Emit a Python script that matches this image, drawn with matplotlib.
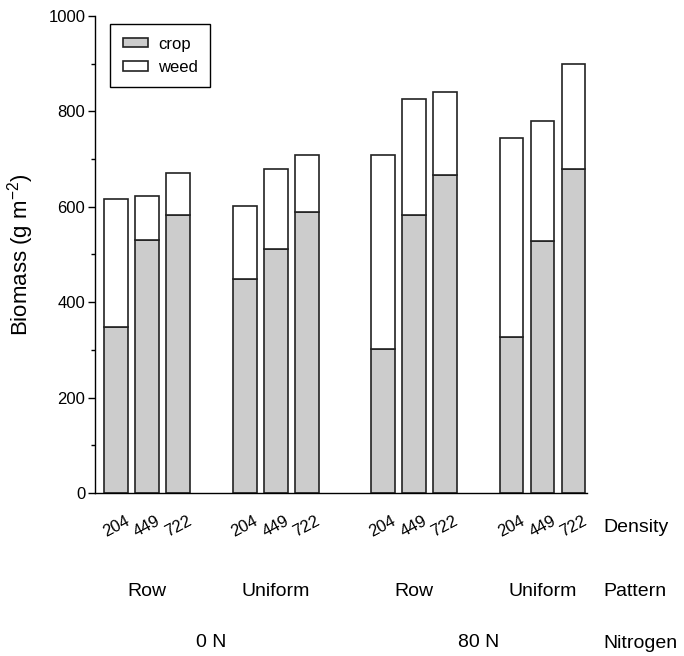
import matplotlib

matplotlib.use("Agg")
import matplotlib.pyplot as plt
import numpy as np
from matplotlib.patches import Patch

plt.rcParams["font.family"] = ["Liberation Sans", "DejaVu Sans"]
plt.rcParams["mathtext.fontset"] = "custom"
plt.rcParams["mathtext.rm"] = "Liberation Sans"
plt.rcParams["mathtext.default"] = "regular"

# Data (g m^-2)
densities = ["204", "449", "722"] * 4
patterns = ["Row", "Uniform", "Row", "Uniform"]
nitrogen = ["0 N", "80 N"]
crop = [349, 531, 583, 448, 511, 590, 301, 583, 667, 327, 529, 680]
weed = [268, 92, 87, 154, 169, 118, 408, 244, 173, 417, 250, 220]

# Bar layout: three bars per pattern group, wider gap between nitrogen levels
group_starts = [0.0, 4.15, 8.6, 12.75]
x = np.array([g + i for g in group_starts for i in range(3)])
group_centres = [g + 1 for g in group_starts]
nitro_centres = [
    (group_centres[0] + group_centres[1]) / 2,
    (group_centres[2] + group_centres[3]) / 2,
]

fig = plt.figure(figsize=(6.84, 6.56), dpi=100)
ax = fig.add_axes([0.1389, 0.2485, 0.7195, 0.7271])

edge = "#222222"
ax.bar(x, crop, width=0.77, color="#cccccc", edgecolor=edge, linewidth=1.2)
ax.bar(x, weed, width=0.77, bottom=crop, color="white", edgecolor=edge, linewidth=1.2)

ax.set_xlim(-0.68, 15.19)
ax.set_ylim(0, 1000)
ax.set_yticks(np.arange(0, 1001, 200))
ax.set_yticks(np.arange(100, 1000, 200), minor=True)
ax.tick_params(axis="y", which="major", length=5, width=1, labelsize=12, pad=2)
ax.tick_params(axis="y", which="minor", length=3, width=1)
ax.set_xticks([])
for side in ("top", "right"):
    ax.spines[side].set_visible(False)
for side in ("left", "bottom"):
    ax.spines[side].set_linewidth(1)

ax.set_ylabel("Biomass (g m$^{-2}$)", fontsize=16, labelpad=9)

tr = ax.get_xaxis_transform()
for xi, d in zip(x, densities):
    ax.text(xi, -0.071, d, rotation=28, ha="center", va="center",
            fontsize=12, transform=tr)
for xc, p in zip(group_centres, patterns):
    ax.text(xc, -0.2075, p, ha="center", va="center", fontsize=14, transform=tr)
for xc, n in zip(nitro_centres, nitrogen):
    ax.text(xc, -0.314, n, ha="center", va="center", fontsize=14, transform=tr)

for yf, lab in [(527, "Density"), (592, "Pattern"), (643, "Nitrogen")]:
    fig.text(603 / 684, 1 - yf / 656, lab, ha="left", va="center", fontsize=14)

handles = [
    Patch(facecolor="#cccccc", edgecolor=edge, linewidth=1.2, label="crop"),
    Patch(facecolor="white", edgecolor=edge, linewidth=1.2, label="weed"),
]
leg = ax.legend(handles=handles, loc="upper left", bbox_to_anchor=(0.031, 0.983),
                borderaxespad=0, fontsize=12, fancybox=False, framealpha=1,
                edgecolor="black", handlelength=1.5, handleheight=0.5,
                borderpad=0.75, labelspacing=0.5, handletextpad=0.6)
leg.get_frame().set_linewidth(1)

fig.savefig("out.png", dpi=100)
